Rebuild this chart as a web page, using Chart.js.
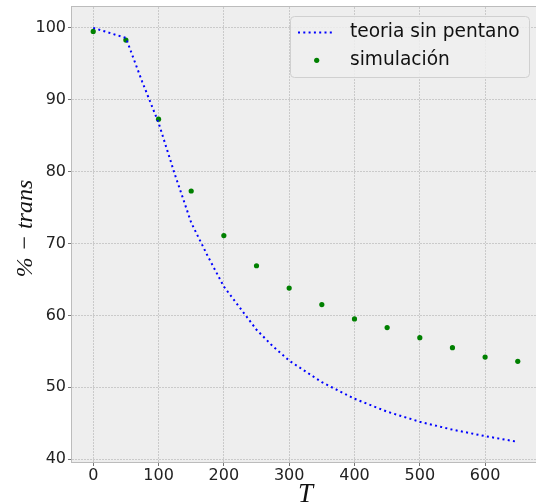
<!DOCTYPE html>
<html>
<head>
<meta charset="utf-8">
<script src="https://cdn.jsdelivr.net/npm/chart.js@4.4.1/dist/chart.umd.min.js"></script>
<style>
  html, body { margin: 0; padding: 0; background: #ffffff; overflow: hidden; }
  #wrap { width: 536px; height: 504px; overflow: hidden; }
</style>
</head>
<body>
<div id="wrap"><canvas id="chart" width="544" height="504"></canvas></div>
<script>
// simulation points
const simT = [0, 50, 100, 150, 200, 250, 300, 350, 400, 450, 500, 550, 600, 650];
const simTrans = [99.5, 98.3, 87.3, 77.3, 71.1, 66.9, 63.8, 61.5, 59.5, 58.3, 56.9, 55.5, 54.2, 53.6];

// theory curve (no pentane)
const theoryT = [0, 50, 75, 100, 125, 150, 175, 200, 225, 250, 275, 300, 350, 400, 450, 500, 550, 600, 650];
const theoryTrans = [100, 98.6, 92.5, 86.8, 79.6, 72.9, 68.3, 64.0, 61.0, 58.0, 55.7, 53.7, 50.7, 48.4, 46.6, 45.2, 44.1, 43.2, 42.4];

const xTicks = [0, 100, 200, 300, 400, 500, 600];
const yTicks = [40, 50, 60, 70, 80, 90, 100];

const xRange = [-32.5, 682.5];
const yRange = [39.6, 102.9];

Chart.defaults.font.family = "'DejaVu Sans', sans-serif";
Chart.defaults.color = '#222222';

const toPoints = (xs, ys) => xs.map((x, i) => ({ x: x, y: ys[i] }));

// grey panel behind the data
const panelBg = {
  id: 'panelBg',
  beforeDraw(chart) {
    const { ctx, chartArea: a } = chart;
    ctx.save();
    ctx.fillStyle = '#eeeeee';
    ctx.fillRect(a.left, a.top, a.right - a.left, a.bottom - a.top);
    ctx.restore();
  }
};

// axes frame + legend box in the upper right
const frameAndLegend = {
  id: 'frameAndLegend',
  afterDatasetsDraw(chart) {
    const { ctx, chartArea: a } = chart;
    ctx.save();
    ctx.strokeStyle = '#bcbcbc';
    ctx.lineWidth = 1;
    ctx.strokeRect(a.left - 0.5, a.top - 0.5, a.right - a.left + 1, a.bottom - a.top + 1);

    const bx = 290.5, by = 16.5, bw = 239, bh = 61;
    ctx.beginPath();
    ctx.roundRect(bx, by, bw, bh, 4);
    ctx.fillStyle = 'rgba(238,238,238,0.85)';
    ctx.fill();
    ctx.strokeStyle = '#d0d0d0';
    ctx.lineWidth = 1;
    ctx.stroke();

    const ds = chart.data.datasets;
    // row 1: dotted line
    ctx.beginPath();
    ctx.setLineDash(ds[0].borderDash);
    ctx.strokeStyle = ds[0].borderColor;
    ctx.lineWidth = ds[0].borderWidth;
    ctx.moveTo(298, 32.5);
    ctx.lineTo(334, 32.5);
    ctx.stroke();
    ctx.setLineDash([]);
    // row 2: marker
    ctx.beginPath();
    ctx.arc(316.7, 60.3, ds[1].pointRadius, 0, Math.PI * 2);
    ctx.fillStyle = ds[1].backgroundColor;
    ctx.fill();

    ctx.fillStyle = '#111111';
    ctx.font = "18.6px 'DejaVu Sans'";
    ctx.textBaseline = 'middle';
    ctx.textAlign = 'left';
    ctx.fillText(ds[0].label, 350, 32.5);
    ctx.fillText(ds[1].label, 350, 60.5);
    ctx.restore();
  }
};

const gridOpts = {
  color: '#b2b2b2',
  lineWidth: 0.6,
  drawTicks: true,
  tickLength: 4,
  tickColor: '#777777',
  tickWidth: 1,
  tickBorderDash: []
};

new Chart(document.getElementById('chart'), {
  type: 'scatter',
  data: {
    datasets: [
      {
        label: 'teoria sin pentano',
        data: toPoints(theoryT, theoryTrans),
        showLine: true,
        borderColor: '#0000ff',
        backgroundColor: '#0000ff',
        borderWidth: 2,
        borderDash: [2, 3.3],
        pointRadius: 0,
        tension: 0
      },
      {
        label: 'simulación',
        data: toPoints(simT, simTrans),
        showLine: false,
        borderWidth: 0,
        backgroundColor: '#008000',
        borderColor: '#008000',
        pointRadius: 2.6
      }
    ]
  },
  options: {
    responsive: false,
    animation: false,
    layout: { padding: { left: 0, top: 7, right: 5, bottom: 0 } },
    plugins: {
      legend: { display: false },
      tooltip: { enabled: false }
    },
    scales: {
      x: {
        type: 'linear',
        min: xRange[0],
        max: xRange[1],
        afterBuildTicks: axis => { axis.ticks = xTicks.map(v => ({ value: v })); },
        afterFit: scale => {
          scale.height = 42;
          scale.paddingLeft = 0;
          scale.paddingRight = 0;
        },
        border: { display: false, dash: [2, 1] },
        grid: gridOpts,
        ticks: {
          font: { size: 16, lineHeight: 1 },
          padding: 2,
          maxRotation: 0
        },
        title: {
          display: true,
          text: 'T',
          font: { family: "'Liberation Serif', serif", style: 'italic', size: 27, lineHeight: 1 },
          padding: { top: 0, bottom: -4 },
          color: '#111111'
        }
      },
      y: {
        type: 'linear',
        min: yRange[0],
        max: yRange[1],
        afterBuildTicks: axis => { axis.ticks = yTicks.map(v => ({ value: v })); },
        afterFit: scale => {
          scale.width = 72;
          scale.paddingTop = 0;
          scale.paddingBottom = 0;
        },
        border: { display: false, dash: [2, 1] },
        grid: gridOpts,
        ticks: {
          font: { size: 16 },
          padding: 2
        },
        title: {
          display: true,
          text: '\u2002% − trans',
          font: { family: "'Liberation Serif', serif", style: 'italic', size: 24, lineHeight: 1 },
          padding: { top: 14, bottom: 0 },
          color: '#111111'
        }
      }
    }
  },
  plugins: [panelBg, frameAndLegend]
});
</script>
</body>
</html>
